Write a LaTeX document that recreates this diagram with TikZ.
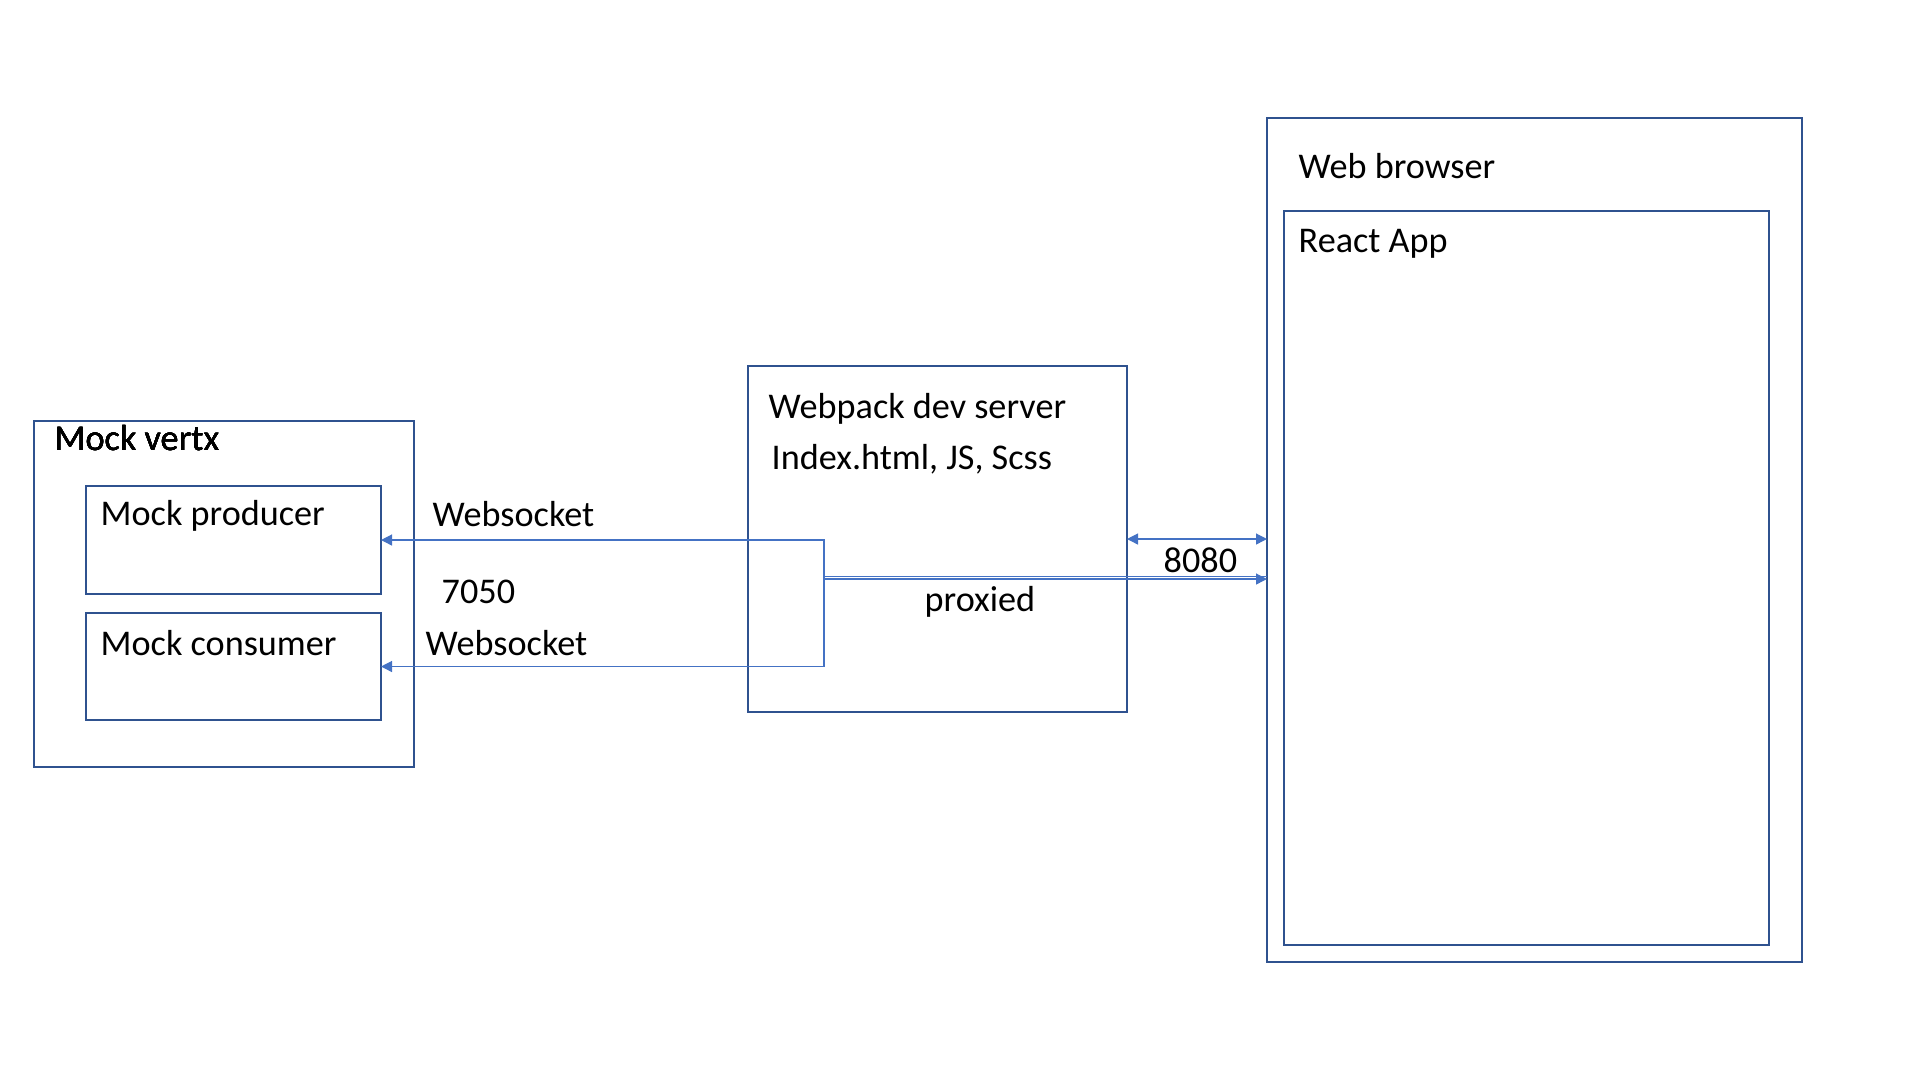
\documentclass[tikz,border=0pt]{standalone}
\usepackage{fontspec}
\setmainfont{Carlito}
\usetikzlibrary{calc,arrows.meta}
\definecolor{boxblue}{HTML}{2F528F}
\definecolor{linkblue}{HTML}{4472C4}
\tikzset{x=0.1mm, y=-0.1mm,
  comp box/.style={draw=boxblue, line width=0.6pt, inner sep=0pt,
        outer sep=0pt, anchor=north west},
  box title/.style={anchor=west, inner sep=0pt,
        font=\fontsize{10.3}{12}\selectfont},
  link/.style={draw=linkblue, line width=0.35pt},
  link tip/.style={-{Triangle[length=1.1mm, width=1.1mm]}}
}
\def\CompBox#1#2#3#4#5{%
  \node[comp box, minimum width=#4*0.1mm, minimum height=#5*0.1mm] (#1) at (#2,#3) {};
}

\begin{document}
\begin{tikzpicture}
\useasboundingbox (0,0) rectangle (1920,1080);
\foreach \name/\x/\y/\w/\h in {vertx/34/421/380/346, producer/86/486/295/108,
    consumer/86/613/295/107, webpack/748/366/379/346,
    browser/1267/118/535/844, react/1284/211/485/734}
  \CompBox{\name}{\x}{\y}{\w}{\h}
% box titles
\node[box title] (vertxTitle) at (54,438) {Mock vertx};
\node[box title] (producerTitle) at (100,516) {Mock producer};
\node[box title] (consumerTitle) at (100,643) {Mock consumer};
\node[box title] (webpackTitle) at (768,409) {Webpack dev server};
\node[box title] (webpackFiles) at (771,459) {Index.html, JS, Scss};
\node[box title] (browserTitle) at (1298,166) {Web browser};
\node[box title] (reactTitle) at (1298,244) {React App};
% link labels
\node[box title] (wsTop) at (432,514) {Websocket};
\node[box title] (wsPort) at (441,592) {7050};
\node[box title] (wsBottom) at (425,643) {Websocket};
\node[box title] (httpPort) at (1163,560) {8080};
\node[box title] (proxyLabel) at (924,602) {proxied};
% links
\coordinate (split) at (824,579);
\draw[link, {Triangle[length=1.1mm, width=1.1mm]}-{Triangle[length=1.1mm, width=1.1mm]}]
  (webpack.east) -- (webpack.east -| browser.west);
\draw[link, link tip] (split) -- (split -| browser.west);
\draw[link, transform canvas={yshift=0.25mm}] (split) -- (split -| browser.west);
\draw[link, link tip] (split) |- (producer.east);
\draw[link, link tip] (split) |- (consumer.east);
\end{tikzpicture}
\end{document}
